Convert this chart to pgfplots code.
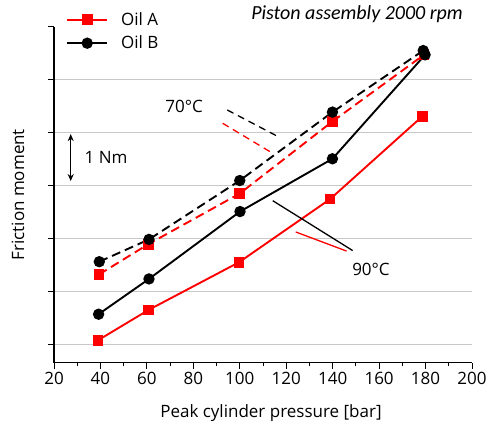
\documentclass[border=0pt]{standalone}
\usepackage{pgfplots}
\pgfplotsset{compat=1.18}
\usepackage{fontspec}
\setmainfont{Open Sans}
\newfontfamily\titlefont{Carlito}
\usetikzlibrary{arrows.meta}

% friction moment, one tick = 1 Nm (tick values are arbitrary offsets)
\pgfplotstableread{
x y
39.0 0.09
60.7 0.66
99.7 1.56
138.9 2.75
178.6 4.31
}\oilAninety
\pgfplotstableread{
x y
39.2 0.58
60.9 1.245
100.1 2.515
139.9 3.51
179.8 5.47
}\oilBninety
\pgfplotstableread{
x y
39.4 1.33
60.6 1.90
100.0 2.855
139.8 4.21
179.3 5.47
}\oilAseventy
\pgfplotstableread{
x y
39.5 1.57
60.9 1.99
100.0 3.10
139.9 4.39
179.0 5.55
}\oilBseventy

\definecolor{gridgray}{RGB}{200,200,200}

\begin{document}
\begin{tikzpicture}[font=\fontsize{17}{20}\selectfont]
\path[use as bounding box] (0,0) rectangle (486pt,427pt);
\begin{axis}[
    at={(54pt,64.3pt)}, anchor=south west,
    width=418pt, height=336pt, scale only axis,
    xmin=20, xmax=200, ymin=-0.334, ymax=6,
    xtick={20,40,...,200}, minor x tick num=1,
    ytick={0,...,5}, yticklabels={},
    extra y ticks={6}, extra y tick labels={},
    extra y tick style={grid=none},
    ymajorgrids, grid style={gridgray, line width=1pt},
    axis lines*=left, axis line style={-, line width=1.2pt},
    tick align=outside, major tick length=6pt, minor tick length=3pt,
    tick style={black, line width=1pt},
    /pgf/number format/assume math mode=true,
    xlabel={Peak cylinder pressure [bar]},
    ylabel={Friction moment},
    x label style={at={(axis description cs:0.519,-0.15)}, anchor=center},
    y label style={at={(axis description cs:-0.086,0.5)}, anchor=center},
    clip=false,
    legend style={at={(axis cs:25.2,5.91)}, anchor=west, draw=none, fill=none,
        inner sep=0pt, row sep=9pt, nodes={inner sep=0pt},
        /tikz/every odd column/.append style={column sep=13pt}},
    legend cell align=left,
    legend image code/.code={
        \draw[mark repeat=2,mark phase=2,#1] plot coordinates {(0pt,0pt) (20pt,0pt) (40pt,0pt)};},
]
\addplot[red, line width=1.9pt, dash pattern=on 9pt off 5pt, mark=square*, mark size=4.4pt,
    mark options={solid}, forget plot] table {\oilAseventy};
\addplot[red, line width=1.9pt, mark=square*, mark size=4.4pt] table {\oilAninety};
\addlegendentry{Oil A}
\addplot[black, line width=1.9pt, dash pattern=on 9pt off 5pt, mark=*, mark size=4.7pt,
    mark options={solid}, forget plot] table {\oilBseventy};
\addplot[black, line width=1.9pt, mark=*, mark size=4.7pt] table {\oilBninety};
\addlegendentry{Oil B}

% annotations
\node[font=\fontsize{20}{24}\selectfont\titlefont\itshape] at (axis cs:150.5,6.23) {Piston assembly 2000 rpm};
\node at (axis cs:76,4.49) {70°C};
\draw[black, line width=1.3pt, dash pattern=on 7pt off 5pt] (axis cs:94.6,4.43) -- (axis cs:116.4,3.93);
\draw[red, line width=1.3pt, dash pattern=on 7pt off 5pt] (axis cs:92.6,4.18) -- (axis cs:114.7,3.60);
\node at (axis cs:156.5,1.43) {90°C};
\draw[black, line width=1.3pt] (axis cs:114.2,2.72) -- (axis cs:148.6,1.78);
\draw[red, line width=1.3pt] (axis cs:124.1,2.13) -- (axis cs:146.0,1.77);
\draw[black, line width=1.3pt, {Stealth[length=7pt,width=6pt]}-{Stealth[length=7pt,width=6pt]}]
    (axis cs:27.2,3.975) -- (axis cs:27.2,3.09);
\node at (axis cs:42.4,3.53) {1 Nm};
\end{axis}
\end{tikzpicture}
\end{document}
